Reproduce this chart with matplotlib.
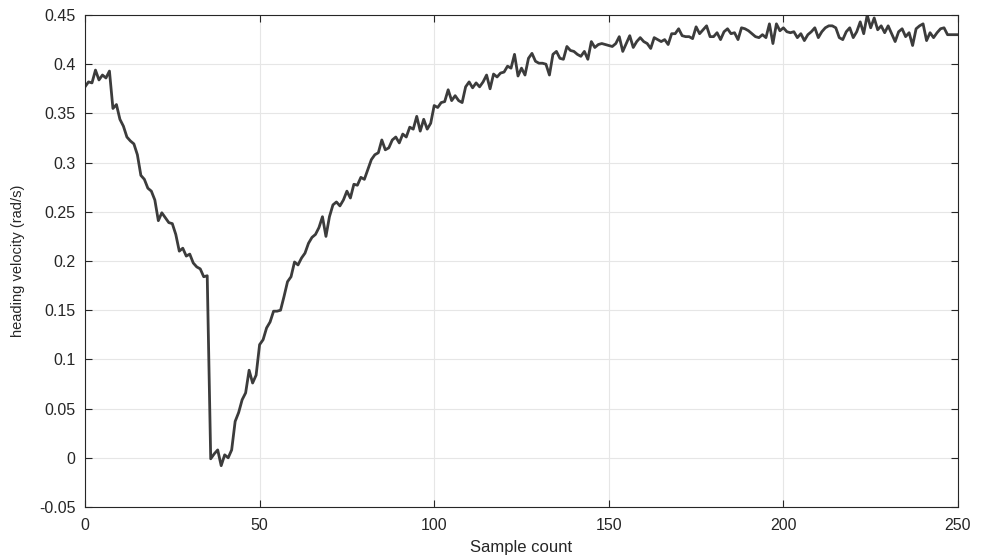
import matplotlib
matplotlib.use("Agg")
import matplotlib.pyplot as plt
import numpy as np

heading_velocity = [
    0.377, 0.382, 0.381, 0.394, 0.384, 0.389, 0.386, 0.393, 0.355, 0.359,
    0.344, 0.337, 0.326, 0.322, 0.319, 0.308, 0.287, 0.283, 0.274, 0.271,
    0.262, 0.241, 0.249, 0.244, 0.239, 0.238, 0.227, 0.210, 0.213, 0.205,
    0.207, 0.198, 0.194, 0.192, 0.184, 0.185, -0.001, 0.004, 0.008, -0.008,
    0.003, 0.000, 0.008, 0.037, 0.046, 0.059, 0.066, 0.089, 0.076, 0.084,
    0.115, 0.120, 0.132, 0.138, 0.149, 0.149, 0.150, 0.164, 0.179, 0.184,
    0.199, 0.196, 0.203, 0.208, 0.218, 0.224, 0.227, 0.234, 0.245, 0.225,
    0.245, 0.257, 0.260, 0.256, 0.262, 0.271, 0.264, 0.278, 0.277, 0.285,
    0.283, 0.293, 0.303, 0.308, 0.310, 0.323, 0.313, 0.315, 0.323, 0.326,
    0.320, 0.329, 0.326, 0.336, 0.334, 0.347, 0.332, 0.344, 0.334, 0.340,
    0.358, 0.356, 0.361, 0.362, 0.374, 0.363, 0.368, 0.363, 0.361, 0.377,
    0.382, 0.376, 0.381, 0.377, 0.382, 0.389, 0.375, 0.390, 0.387, 0.391,
    0.392, 0.398, 0.396, 0.410, 0.388, 0.396, 0.389, 0.406, 0.411, 0.403,
    0.401, 0.401, 0.400, 0.389, 0.410, 0.413, 0.406, 0.405, 0.418, 0.414,
    0.413, 0.410, 0.408, 0.413, 0.405, 0.423, 0.417, 0.420, 0.421, 0.420,
    0.419, 0.418, 0.421, 0.428, 0.413, 0.421, 0.429, 0.417, 0.423, 0.427,
    0.423, 0.421, 0.416, 0.427, 0.425, 0.423, 0.425, 0.420, 0.431, 0.431,
    0.436, 0.429, 0.428, 0.428, 0.426, 0.438, 0.431, 0.435, 0.439, 0.428,
    0.428, 0.432, 0.425, 0.433, 0.436, 0.431, 0.432, 0.425, 0.437, 0.436,
    0.434, 0.431, 0.428, 0.427, 0.430, 0.427, 0.441, 0.421, 0.441, 0.434,
    0.437, 0.433, 0.432, 0.433, 0.427, 0.431, 0.424, 0.430, 0.433, 0.437,
    0.427, 0.433, 0.437, 0.439, 0.439, 0.437, 0.427, 0.425, 0.433, 0.437,
    0.427, 0.433, 0.443, 0.431, 0.450, 0.437, 0.447, 0.435, 0.439, 0.432,
    0.439, 0.431, 0.423, 0.433, 0.436, 0.428, 0.432, 0.419, 0.436, 0.439,
    0.441, 0.424, 0.432, 0.427, 0.432, 0.436, 0.437, 0.430, 0.430, 0.430,
    0.430,
]
sample_count = list(range(len(heading_velocity)))

x_ticks = [0, 50, 100, 150, 200, 250]
y_ticks = [-0.05, 0, 0.05, 0.1, 0.15, 0.2, 0.25, 0.3, 0.35, 0.4, 0.45]
y_tick_labels = ["-0.05", "0", "0.05", "0.1", "0.15", "0.2", "0.25", "0.3", "0.35", "0.4", "0.45"]

plt.rcParams['font.family'] = ['Liberation Sans', 'DejaVu Sans']

fig = plt.figure(figsize=(9.87, 5.60), dpi=100)
ax = fig.add_axes([85/987, 53/560, 873/987, 492/560])

ax.plot(sample_count, heading_velocity, color='#3c3c3c', linewidth=2.0)

ax.set_xlim(0, 250)
ax.set_ylim(-0.05, 0.45)
ax.set_xticks(x_ticks)
ax.set_xticklabels([str(t) for t in x_ticks])
ax.set_yticks(y_ticks)
ax.set_yticklabels(y_tick_labels)

ax.grid(True, color='#e6e6e6', linewidth=0.8)
ax.set_axisbelow(True)
ax.tick_params(direction='in', top=True, right=True, length=5, width=0.8,
               labelsize=11.5, colors='#262626')
ax.tick_params(axis='x', pad=8)
ax.tick_params(axis='y', pad=7)
for s in ax.spines.values():
    s.set_color('#262626')
    s.set_linewidth(0.8)

ax.set_xlabel('Sample count', fontsize=12, color='#262626', labelpad=5)
ax.set_ylabel('heading velocity (rad/s)', fontsize=10.5, color='#262626', labelpad=10)

fig.savefig('out.png', dpi=100)
